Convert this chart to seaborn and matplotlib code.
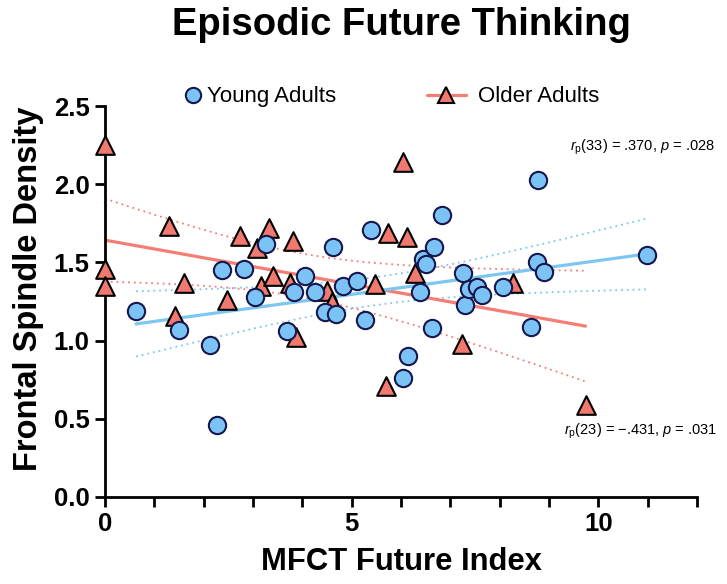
import numpy as np
import pandas as pd
import matplotlib
matplotlib.use("Agg")
import matplotlib.pyplot as plt
import seaborn as sns
from matplotlib.lines import Line2D

# ---- data ----
young_x = [0.63, 1.50, 2.13, 2.28, 2.37, 2.82, 3.04, 3.26, 3.68, 3.84, 4.06, 4.25,
           4.46, 4.63, 4.68, 4.83, 5.10, 5.27, 5.39, 6.04, 6.15, 6.39, 6.45, 6.50,
           6.63, 6.67, 6.84, 7.25, 7.30, 7.37, 7.54, 7.64, 8.06, 8.64, 8.75, 8.77,
           8.90, 10.99]
young_y = [1.19, 1.07, 0.97, 0.46, 1.45, 1.46, 1.28, 1.62, 1.06, 1.31, 1.41, 1.31,
           1.18, 1.60, 1.17, 1.35, 1.38, 1.13, 1.71, 0.76, 0.90, 1.31, 1.52, 1.49,
           1.08, 1.60, 1.80, 1.43, 1.23, 1.33, 1.34, 1.29, 1.34, 1.09, 1.50, 2.03,
           1.44, 1.55]
older_x = [0.0, 0.0, 0.0, 1.30, 1.42, 1.60, 2.47, 2.74, 3.08, 3.16, 3.33, 3.40,
           3.75, 3.82, 3.87, 4.50, 4.61, 5.48, 5.69, 5.74, 6.05, 6.13, 6.29, 7.23,
           8.28, 9.74]
older_y = [2.25, 1.46, 1.35, 1.73, 1.16, 1.37, 1.26, 1.67, 1.59, 1.35, 1.72, 1.41,
           1.37, 1.64, 1.02, 1.32, 1.25, 1.36, 0.71, 1.69, 2.14, 1.66, 1.43, 0.98,
           1.37, 0.59]
t_crit = {"young": 2.028, "older": 2.064}

labels = ["Young Adults", "Older Adults"]
title = "Episodic Future Thinking"
xlabel = "MFCT Future Index"
ylabel = "Frontal Spindle Density"
annot_young = r"$r_{\mathrm{p}}$(33) = .370, $p$ = .028"
annot_older = r"$r_{\mathrm{p}}$(23) = " + "\u2212" + r".431, $p$ = .031"

young = pd.DataFrame({"x": young_x, "y": young_y})
older = pd.DataFrame({"x": older_x, "y": older_y})

# ---- style ----
sns.set_style("ticks")
plt.rcParams["font.family"] = ["Liberation Sans", "DejaVu Sans"]
plt.rcParams["mathtext.fontset"] = "custom"
plt.rcParams["mathtext.rm"] = "Liberation Sans"
plt.rcParams["mathtext.it"] = "Liberation Sans:italic"
for k in ("text.color", "axes.labelcolor", "xtick.color", "ytick.color"):
    plt.rcParams[k] = "black"

blue_face = "#7cc3f5"
blue_edge = "#15174d"
blue_line = "#7dc6f2"
red_face = "#f2796f"
red_line = "#f47d74"

fig = plt.figure(figsize=(7.27, 5.84), dpi=100)
ax = fig.add_axes([105 / 727, 1 - 497 / 584, 592 / 727, 391 / 584])


def ci_band(df, tc, color):
    x = df["x"].to_numpy()
    y = df["y"].to_numpy()
    n = len(x)
    b1, b0 = np.polyfit(x, y, 1)
    grid = np.linspace(x.min(), x.max(), 100)
    resid = y - (b0 + b1 * x)
    s = np.sqrt(np.sum(resid ** 2) / (n - 2))
    se = s * np.sqrt(1 / n + (grid - x.mean()) ** 2 / np.sum((x - x.mean()) ** 2))
    yhat = b0 + b1 * grid
    for sign in (1, -1):
        ax.plot(grid, yhat + sign * tc * se, ls=(0, (1, 2.2)), lw=1.3,
                color=color, zorder=1)


ci_band(older, t_crit["older"], red_line)
ci_band(young, t_crit["young"], blue_line)

sns.regplot(data=older, x="x", y="y", ax=ax, ci=None, truncate=True,
            marker="^",
            scatter_kws=dict(s=180, color=red_face, edgecolors="black",
                             linewidths=1.5, alpha=1, zorder=4, clip_on=False),
            line_kws=dict(color=red_line, lw=2.3, zorder=2))
sns.regplot(data=young, x="x", y="y", ax=ax, ci=None, truncate=True,
            marker="o",
            scatter_kws=dict(s=155, color=blue_face, edgecolors=blue_edge,
                             linewidths=1.5, alpha=1, zorder=5, clip_on=False),
            line_kws=dict(color=blue_line, lw=2.3, zorder=2))

ax.set_xlim(0, 12)
ax.set_ylim(0, 2.5)
ax.set_xticks([0, 5, 10])
ax.set_xticks(np.arange(0, 13, 1), minor=True)
ax.set_yticks(np.arange(0, 2.51, 0.5))
ax.set_yticklabels([f"{v:.1f}" for v in np.arange(0, 2.51, 0.5)])
for lab in ax.get_xticklabels() + ax.get_yticklabels():
    lab.set_fontweight("bold")
ax.tick_params(axis="both", which="both", length=7, width=2, direction="out",
               labelsize=18.5, colors="black", pad=4)
sns.despine(ax=ax)
for sp in ("left", "bottom"):
    ax.spines[sp].set_linewidth(2)
    ax.spines[sp].set_color("black")

ax.set_xlabel(xlabel, fontsize=22.3, fontweight="bold", labelpad=8)
ax.set_ylabel(ylabel, fontsize=23.5, fontweight="bold", labelpad=7)
ax.yaxis.label.set_y(0.532)
fig.text(401 / 727, 1 - 35 / 584, title, fontsize=27.5, fontweight="bold",
         ha="center", va="baseline")

ax.text(1.03, 0.895, annot_young, transform=ax.transAxes, ha="right", va="center",
        fontsize=10.5)
ax.text(1.035, 0.168, annot_older, transform=ax.transAxes, ha="right", va="center",
        fontsize=10.5)

h_young = Line2D([], [], marker="o", ls="none", ms=11, mfc=blue_face,
                 mec=blue_edge, mew=1.5)
h_older = Line2D([], [], marker="^", ls="-", lw=2.3, color=red_line, ms=12,
                 mfc=red_face, mec="black", mew=1.5)
leg1 = fig.legend([h_young], [labels[0]], loc="center left",
                  bbox_to_anchor=(184 / 727, 1 - 97 / 584), frameon=False,
                  fontsize=16, handlelength=0.8, handletextpad=0.25,
                  borderpad=0, borderaxespad=0)
leg2 = fig.legend([h_older], [labels[1]], loc="center left",
                  bbox_to_anchor=(427 / 727, 1 - 97 / 584), frameon=False,
                  fontsize=16, handlelength=1.75, handletextpad=0.55,
                  borderpad=0, borderaxespad=0)

fig.savefig("out.png", dpi=100)
